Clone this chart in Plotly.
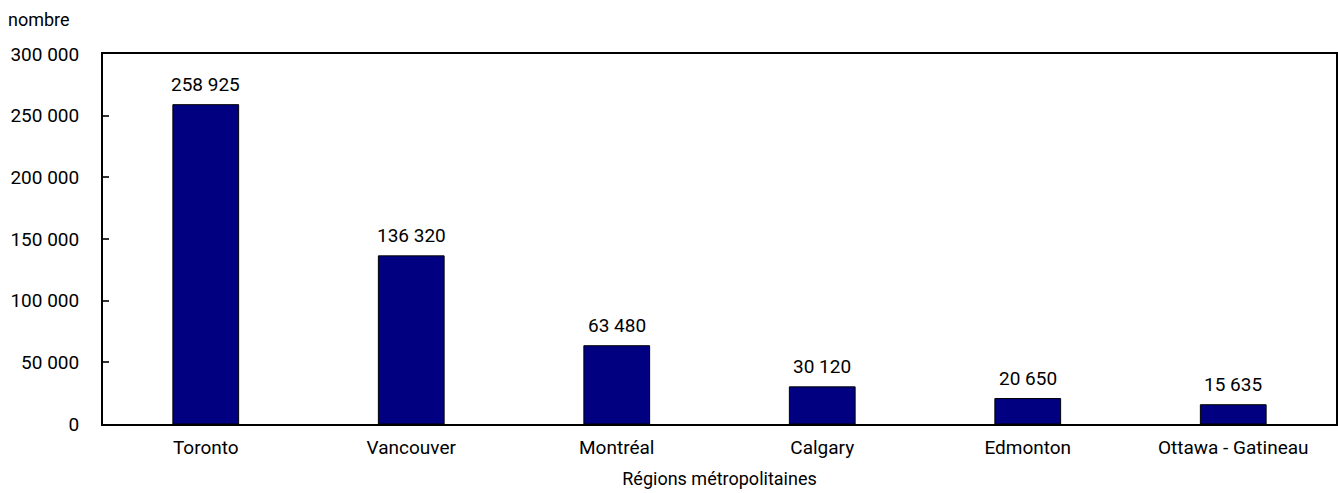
import plotly.graph_objects as go

categories = ["Toronto", "Vancouver", "Montréal", "Calgary", "Edmonton", "Ottawa - Gatineau"]
values = [258925, 136320, 63480, 30120, 20650, 15635]
tick_vals = [0, 50000, 100000, 150000, 200000, 250000, 300000]
tick_text = ["0", "50 000", "100 000", "150 000", "200 000", "250 000", "300 000"]

def fmt(v):
    return f"{v:,}".replace(",", " ")

FONT = "Roboto, Liberation Sans, sans-serif"
FS = 19

fig = go.Figure(go.Bar(
    x=categories, y=values,
    marker=dict(color="#000080", line=dict(color="#000000", width=1)),
    width=0.32,
    cliponaxis=False,
))

for c, v in zip(categories, values):
    fig.add_annotation(x=c, y=v, text=fmt(v), showarrow=False,
                       xanchor="center", yanchor="bottom", yshift=7,
                       font=dict(family=FONT, size=FS, color="#000000"))

fig.update_layout(
    width=1338, height=493,
    margin=dict(l=103, r=0, t=54, b=69),
    paper_bgcolor="white", plot_bgcolor="white",
    font=dict(family=FONT, size=FS, color="#000000"),
    showlegend=False,
)
fig.update_xaxes(
    showline=True, linecolor="#000000", linewidth=2, mirror=True,
    ticks="", showgrid=False,
    title=dict(text="Régions métropolitaines", standoff=15, font=dict(size=18)),
    tickfont=dict(size=FS),
    ticklabelstandoff=5,
)
fig.update_yaxes(
    range=[0, 300000], tickvals=tick_vals, ticktext=tick_text,
    showline=True, linecolor="#000000", linewidth=2, mirror=True,
    ticks="inside", ticklen=6, tickcolor="#333333", tickwidth=2,
    showgrid=False, zeroline=False,
    tickfont=dict(size=FS),
    ticklabelstandoff=18,
)
fig.add_annotation(text="nombre", xref="paper", yref="paper", x=-97/1235, y=1.0,
                   xanchor="left", yanchor="bottom", yshift=22, showarrow=False,
                   font=dict(family=FONT, size=18, color="#000000"))

fig.write_html("out.html")
